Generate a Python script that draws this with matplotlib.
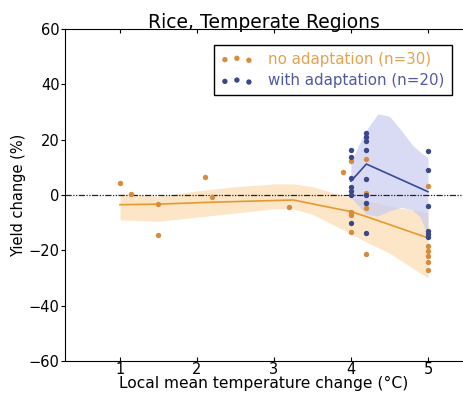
import numpy as np
import matplotlib
matplotlib.use("Agg")
import matplotlib.pyplot as plt

# ===== data =====
no_x = [1.0, 1.14, 1.5, 1.5, 2.1, 2.2, 3.2, 3.89,
        4.0, 4.0, 4.0, 4.0, 4.2, 4.2, 4.2, 4.2, 4.2,
        5.0, 5.0, 5.0, 5.0, 5.0, 5.0]
no_y = [4.2, 0.2, -3.3, -14.5, 6.6, -0.6, -4.5, 8.2,
        12.3, -6.0, -7.2, -13.3, 13.0, 0.6, -2.8, -4.8, -21.3,
        3.4, -18.5, -20.2, -22.0, -24.3, -27.2]

ad_x = [4.0, 4.0, 4.0, 4.0, 4.0, 4.0, 4.0,
        4.2, 4.2, 4.2, 4.2, 4.2, 4.2, 4.2, 4.2,
        5.0, 5.0, 5.0, 5.0, 5.0, 5.0]
ad_y = [16.3, 13.6, 6.0, 2.8, 1.6, 0.0, -10.2,
        22.3, 20.8, 19.5, 16.3, 5.8, 0.0, -2.9, -13.9,
        16.0, 9.0, -4.0, -12.9, -14.1, -15.3]

# mean lines
no_line_x = [1.0, 1.5, 2.2, 3.25, 4.0, 4.2, 5.0]
no_line_y = [-3.5, -3.3, -2.6, -1.8, -6.0, -7.8, -15.5]
ad_line_x = [4.0, 4.2, 5.0]
ad_line_y = [5.0, 11.2, 1.2]

# uncertainty bands
no_band_x = [1.0, 1.5, 2.0, 2.5, 3.0, 3.25, 3.5, 4.0, 4.2, 4.5, 5.0]
no_band_hi = [0.5, -0.5, 1.5, 3.0, 4.0, 4.0, 3.0, -1.0, -2.0, -4.0, -6.5]
no_band_lo = [-9.0, -9.5, -8.0, -6.5, -5.0, -5.0, -7.0, -14.0, -17.0, -21.0, -30.0]

ad_band_x = [4.0, 4.1, 4.2, 4.35, 4.5, 4.65, 4.8, 4.9, 5.0]
ad_band_hi = [12.0, 18.0, 23.5, 29.3, 28.5, 23.5, 18.0, 15.5, 13.5]
ad_band_lo = [-1.0, -4.0, -7.0, -7.6, -5.8, -4.4, -5.5, -8.0, -15.0]

ORANGE = "#d68c3c"
ORANGE_LINE = "#e39a30"
ORANGE_BAND = "#fde2bd"
BLUE = "#3b4888"
BLUE_LINE = "#3a479a"
BLUE_BAND = "#c9cbef"

fig = plt.figure(figsize=(4.63, 3.99), dpi=100)
ax = fig.add_axes([0.1404, 0.0952, 0.8596, 0.8321])

ax.fill_between(no_band_x, no_band_lo, no_band_hi, color=ORANGE_BAND, alpha=0.85, lw=0, zorder=1)
ax.fill_between(ad_band_x, ad_band_lo, ad_band_hi, color=BLUE_BAND, alpha=0.7, lw=0, zorder=2)

ax.axhline(0, color="#222222", lw=0.9, ls=(0, (5, 1.2, 1, 1.2, 1, 1.2)), zorder=3)

ax.plot(no_line_x, no_line_y, color=ORANGE_LINE, lw=1.2, zorder=4)
ax.plot(ad_line_x, ad_line_y, color=BLUE_LINE, lw=1.2, zorder=4)

ax.scatter(no_x, no_y, s=15, color=ORANGE, lw=0, zorder=5,
           label="no adaptation (n=30)")
ax.scatter(ad_x, ad_y, s=15, color=BLUE, lw=0, zorder=5,
           label="with adaptation (n=20)")

ax.set_xlim(0.286, 5.455)
ax.set_ylim(-60, 60)
ax.set_xticks([1, 2, 3, 4, 5])
ax.set_yticks([-60, -40, -20, 0, 20, 40, 60])
ax.set_yticklabels(["\u221260", "\u221240", "\u221220", "0", "20", "40", "60"])
ax.spines["right"].set_visible(False)
ax.tick_params(axis="x", direction="in", top=True, length=3, pad=1, labelsize=10.5)
ax.tick_params(axis="y", direction="out", length=3, pad=1, labelsize=10.5)

ax.set_xlabel("Local mean temperature change (\u00b0C)", fontsize=11.2, labelpad=-1)
ax.set_ylabel("Yield change (%)", fontsize=10.5, labelpad=2)
ax.set_title("Rice, Temperate Regions", fontsize=13.5, pad=1)

leg = ax.legend(loc="upper right", bbox_to_anchor=(0.99, 0.975), scatterpoints=3,
                fontsize=10.8, fancybox=False, edgecolor="black", framealpha=1,
                borderpad=0.45, handlelength=2.2, handletextpad=1.0, labelspacing=0.45)
leg.get_frame().set_linewidth(1.0)
leg.get_texts()[0].set_color("#e3a24f")
leg.get_texts()[1].set_color("#4f5aa3")

fig.savefig("out.png", dpi=100)
